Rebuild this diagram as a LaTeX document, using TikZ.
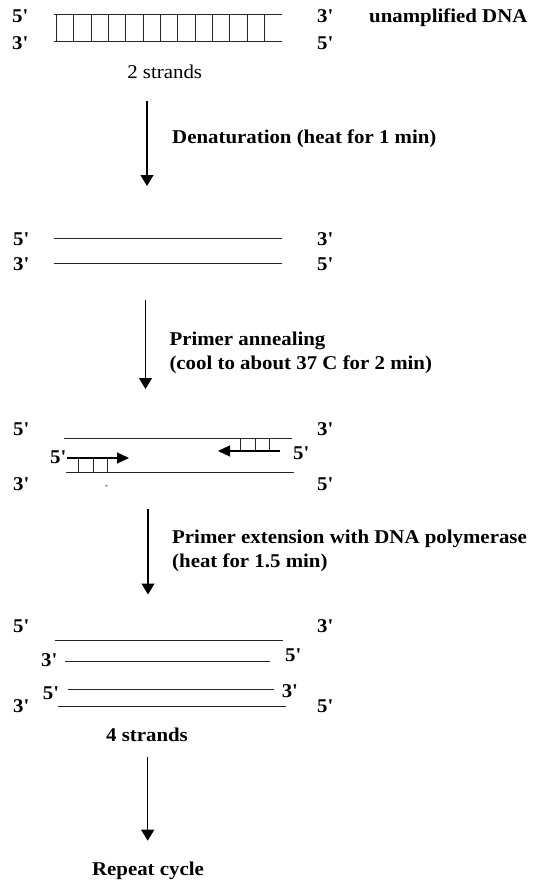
\documentclass[tikz,border=0pt]{standalone}
\usepackage{fontspec}
\setmainfont{Liberation Serif}[FakeStretch=1.07]
\usepackage{tikz}
\usetikzlibrary{arrows.meta}
\newcommand{\labsize}{\fontsize{19.5}{24}\selectfont}
\newcommand{\fivep}{5\textquotesingle}
\newcommand{\threep}{3\textquotesingle}

\begin{document}
\begin{tikzpicture}[
x=1pt,y=-1pt,
lbl/.style={font=\labsize\bfseries,inner sep=0pt,anchor=base west},
plainlbl/.style={font=\labsize,inner sep=0pt,anchor=base},
steplbl/.style={font=\labsize\bfseries,inner sep=0pt,anchor=base west,align=left},
strand/.style={line width=1pt,draw=black!85},
rung/.style={line width=0.9pt,draw=black!85},
arr/.style={-{Triangle[length=11pt,width=13pt]},line width=1.2pt},
prim/.style={-{Triangle[length=12pt,width=11pt]},line width=1.2pt}
]
\useasboundingbox (0,0) rectangle (535,880);
\draw[strand] (53.6,15) -- (282,15);
\draw[strand] (53.6,42) -- (282,42);
\foreach \i in {0,...,12} \draw[rung] ({56.3+17.35*\i},15) -- ({56.3+17.35*\i},42);
\node[lbl] (s1a) at (12,23) {\fivep};
\node[lbl] (s1b) at (12,50) {\threep};
\node[lbl] (s1c) at (317,23) {\threep};
\node[lbl] (s1d) at (317,50) {\fivep};
\node[lbl] (dna) at (369,23) {unamplified DNA};
\node[plainlbl] (two) at (164.7,79) {2 strands};
\coordinate (a1s) at (147,101);
\coordinate (a1e) at (147,186);
\draw[arr] (a1s) -- (a1e);
\node[lbl] (den) at (172,143) {Denaturation (heat for 1 min)};
\draw[strand] (53.6,238) -- (282,238);
\draw[strand] (53.6,263.6) -- (282,263.6);
\node[lbl] (s2a) at (13,245) {\fivep};
\node[lbl] (s2b) at (13,270) {\threep};
\node[lbl] (s2c) at (317,245) {\threep};
\node[lbl] (s2d) at (317,270) {\fivep};
\coordinate (a2s) at (145.5,299.5);
\coordinate (a2e) at (145.5,389);
\draw[arr] (a2s) -- (a2e);
\node[steplbl] (ann) at (169.3,369.5) {Primer annealing\\(cool to about 37 C for 2 min)};
\draw[strand] (64,438) -- (292,438);
\draw[strand] (66,472) -- (294,472);
\node[lbl] (s3a) at (13,435) {\fivep};
\node[lbl] (s3b) at (13,490) {\threep};
\node[lbl] (s3c) at (317,435) {\threep};
\node[lbl] (s3d) at (317,490) {\fivep};
\coordinate (p1s) at (67,458);
\coordinate (p1e) at (129,458);
\draw[prim] (p1s) -- (p1e);
\foreach \x in {78,93,107} \draw[rung] (\x,458) -- (\x,472);
\node[lbl] (p1) at (50,463) {\fivep};
\coordinate (p2s) at (280,451);
\coordinate (p2e) at (218,451);
\draw[prim] (p2s) -- (p2e);
\foreach \x in {240,255,269} \draw[rung] (\x,438) -- (\x,451);
\node[lbl] (p2) at (293,459) {\fivep};
\node[font=\fontsize{9}{9}\selectfont,inner sep=0pt] (stray) at (106.5,487) {-};
\coordinate (a3s) at (148,509);
\coordinate (a3e) at (148,594.5);
\draw[arr] (a3s) -- (a3e);
\node[steplbl] (ext) at (172,567) {Primer extension with DNA polymerase\\(heat for 1.5 min)};
\draw[strand] (54.6,640) -- (282.6,640);
\draw[strand] (64.8,661.4) -- (270.3,661.4);
\draw[strand] (68.3,689.4) -- (273.7,689.4);
\draw[strand] (58,706.5) -- (285.7,706.5);
\node[lbl] (s4a) at (13,632) {\fivep};
\node[lbl] (s4b) at (317,632) {\threep};
\node[lbl] (s4c) at (41,666.6) {\threep};
\node[lbl] (s4d) at (285,661.4) {\fivep};
\node[lbl] (s4e) at (42.7,699) {\fivep};
\node[lbl] (s4f) at (281.6,697) {\threep};
\node[lbl] (s4g) at (13,712.6) {\threep};
\node[lbl] (s4h) at (317,712.6) {\fivep};
\node[plainlbl,font=\labsize\bfseries] (four) at (147,741.7) {4 strands};
\coordinate (a4s) at (147.7,756.7);
\coordinate (a4e) at (147.7,840.7);
\draw[arr] (a4s) -- (a4e);
\node[plainlbl,font=\labsize\bfseries] (rep) at (148,875) {Repeat cycle};
\end{tikzpicture}
\end{document}
